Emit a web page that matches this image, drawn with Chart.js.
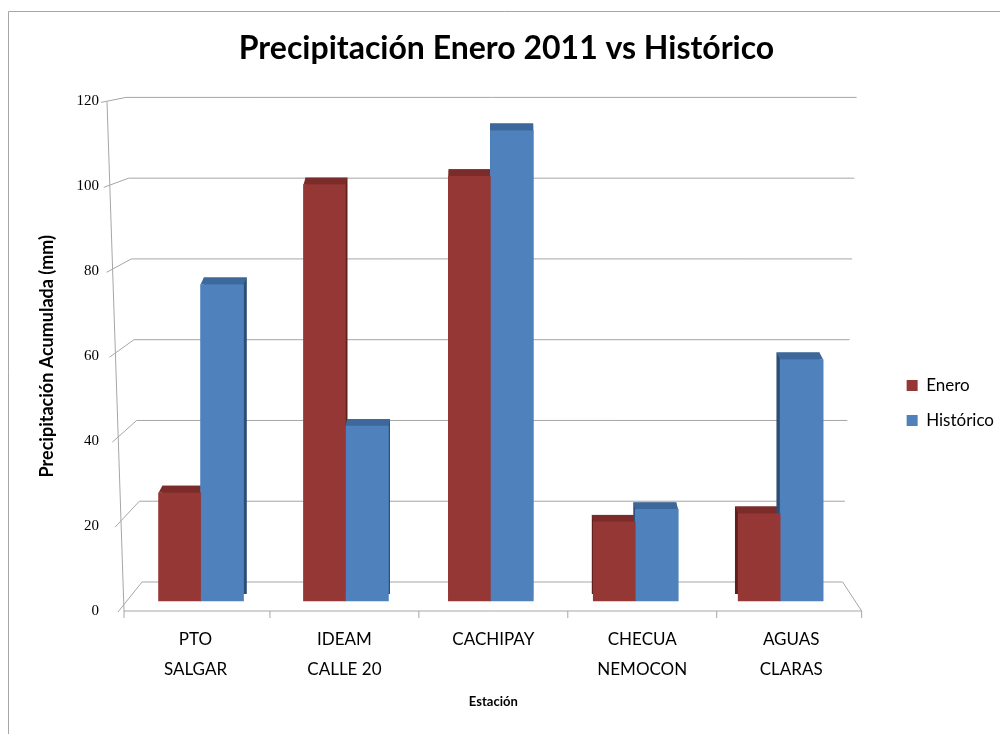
<!DOCTYPE html>
<html>
<head>
<meta charset="utf-8">
<script src="https://cdn.jsdelivr.net/npm/chart.js@4.4.0/dist/chart.umd.min.js"></script>
<style>
html, body { margin: 0; padding: 0; background: #fff; }
</style>
</head>
<body>
<canvas id="myChart" width="1000" height="734"></canvas>
<script>
var estaciones = [['PTO', 'SALGAR'], ['IDEAM', 'CALLE 20'], ['CACHIPAY'], ['CHECUA', 'NEMOCON'], ['AGUAS', 'CLARAS']];
var enero = [26, 100, 102, 19, 21];
var historico = [76, 42, 113, 22, 58];
var yMax = 120;
var yStep = 20;

// caras 3D: color superior y lateral
var caras = [
    { top: '#7b2c2a', side: '#5e1f1d' },
    { top: '#3d689c', side: '#2c4d75' }
];

// las barras van en un eje lineal oculto (la perspectiva las junta un poco)
function puntos(serie) {
    return serie.map(function(v, i) { return { x: i, y: v }; });
}

// pared del fondo y piso con perspectiva, dibujados desde la escala y
const perspectiva = {
    id: 'perspectiva',
    afterLayout(chart) {
        // mover la leyenda un poco a la derecha y abajo, como en Excel
        const lg = chart.legend;
        lg.left += 23; lg.right += 23;
        lg.top += 46; lg.bottom += 46;
    },
    beforeDraw(chart) {
        const ctx = chart.ctx;
        ctx.save();
        ctx.strokeStyle = '#a6a6a6';
        ctx.lineWidth = 1;
        ctx.beginPath();
        ctx.moveTo(8.5, 734);
        ctx.lineTo(8.5, 11.5);
        ctx.lineTo(1000, 11.5);
        ctx.stroke();
        ctx.restore();
    },
    beforeDatasetsDraw(chart) {
        const ctx = chart.ctx;
        const y = chart.scales.y;
        const x = chart.scales.x;
        const a = chart.chartArea;
        ctx.save();
        ctx.strokeStyle = '#a6a6a6';
        ctx.lineWidth = 1;
        // lineas de la pared
        for (var v = 0; v <= yMax; v += yStep) {
            var t = v / yMax;
            var yf = y.getPixelForValue(v);
            var xf = a.left + 3 - 17 * t;
            var yb = yf - (29 - 25 * t);
            var xb = a.left + 21 - 16 * t;
            var xr = a.right - 23 + 14 * t;
            ctx.beginPath();
            ctx.moveTo(xf - 6, yf + 1);
            ctx.lineTo(xb, yb);
            ctx.lineTo(xr, yb);
            ctx.stroke();
        }
        // eje frontal izquierdo
        ctx.beginPath();
        ctx.moveTo(a.left + 3, y.getPixelForValue(0));
        ctx.lineTo(a.left - 14, y.getPixelForValue(yMax));
        ctx.stroke();
        // piso
        var y0 = y.getPixelForValue(0);
        ctx.beginPath();
        ctx.moveTo(a.left + 3, y0);
        ctx.lineTo(a.right - 4, y0);
        ctx.lineTo(a.right - 23, y0 - 29);
        ctx.stroke();
        // marcas entre categorias
        for (var i = 0; i <= estaciones.length; i++) {
            var px;
            if (i === 0) px = a.left + 3;
            else if (i === estaciones.length) px = a.right - 4;
            else px = (x.getPixelForValue(i - 1) + x.getPixelForValue(i)) / 2;
            ctx.beginPath();
            ctx.moveTo(px, y0);
            ctx.lineTo(px, y0 + 7);
            ctx.stroke();
        }
        // volumen de las barras (detras de la cara frontal)
        var centro = (a.left + a.right) / 2;
        chart.data.datasets.forEach(function(ds, di) {
            var meta = chart.getDatasetMeta(di);
            meta.data.forEach(function(bar) {
                var p = bar.getProps(['x', 'y', 'base', 'width'], true);
                var left = p.x - p.width / 2;
                var right = p.x + p.width / 2;
                var dx = (centro - p.x) * 0.012;
                var dy = 7;
                ctx.fillStyle = caras[di].side;
                ctx.fillRect(left + dx, p.y - dy, p.width, p.base - p.y);
                ctx.fillStyle = caras[di].top;
                ctx.beginPath();
                ctx.moveTo(left, p.y);
                ctx.lineTo(right, p.y);
                ctx.lineTo(right + dx, p.y - dy);
                ctx.lineTo(left + dx, p.y - dy);
                ctx.closePath();
                ctx.fill();
            });
        });
        ctx.restore();
    }
};

const chartdata = {
    labels: estaciones,
    datasets: [{
            label: 'Enero',
            backgroundColor: '#953735',
            data: puntos(enero),
            barThickness: 42,
            xAxisID: 'x2',
            yAxisID: 'y2'
        },
        {
            label: 'Histórico',
            backgroundColor: '#4f81bd',
            data: puntos(historico),
            barThickness: 43,
            xAxisID: 'x2',
            yAxisID: 'y2'
        }
    ]
};

const config = {
    type: 'bar',
    data: chartdata,
    options: {
        responsive: false,
        animation: false,
        devicePixelRatio: 1,
        layout: {
            padding: { left: 32, right: 19, top: 0, bottom: 20 }
        },
        plugins: {
            title: {
                display: true,
                text: 'Precipitación Enero 2011 vs Histórico',
                color: '#000',
                font: { family: 'Lato', size: 32, weight: 'bold' },
                padding: { top: 29, bottom: 34 }
            },
            legend: {
                position: 'right',
                labels: {
                    color: '#000',
                    boxWidth: 11,
                    boxHeight: 11,
                    padding: 18,
                    font: { family: 'Lato', size: 17 }
                }
            },
            tooltip: { enabled: false }
        },
        scales: {
            x: {
                type: 'category',
                grid: { display: false, drawTicks: false },
                border: { display: false },
                ticks: {
                    color: '#000',
                    padding: 14,
                    maxRotation: 0,
                    font: { family: 'Lato', size: 17, lineHeight: 1.75 }
                },
                title: {
                    display: true,
                    text: 'Estación',
                    color: '#000',
                    font: { family: 'Lato', size: 13, weight: 'bold' },
                    padding: { top: 0, bottom: 4 }
                },
                afterFit: function(scale) { scale.height = 103; }
            },
            x2: {
                type: 'linear',
                axis: 'x',
                position: 'bottom',
                display: false,
                offset: false,
                min: -0.549,
                max: 4.590
            },
            y: {
                min: 0,
                max: yMax,
                grid: { display: false, drawTicks: false },
                border: { display: false },
                ticks: {
                    stepSize: yStep,
                    color: '#000',
                    padding: 22,
                    font: { family: 'Liberation Serif', size: 15 }
                },
                title: {
                    display: true,
                    text: 'Precipitación Acumulada (mm)',
                    color: '#000',
                    font: { family: 'Lato', size: 18, weight: 'bold' },
                    padding: { top: 4, bottom: 0 }
                },
                afterFit: function(scale) { scale.width = 89; }
            },
            y2: {
                display: false,
                min: -2.4,
                max: yMax
            }
        }
    },
    plugins: [perspectiva]
};

var myChart = new Chart(
    document.getElementById('myChart'),
    config
);
</script>
</body>
</html>
